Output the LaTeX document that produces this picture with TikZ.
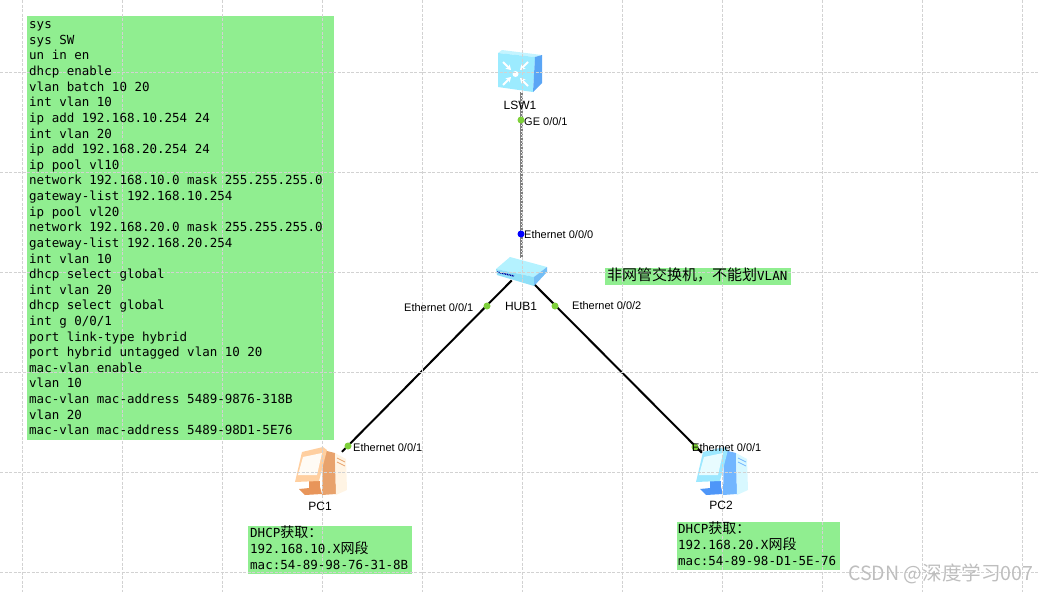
\documentclass[tikz,border=0pt]{standalone}
\usepackage{fontspec}
\usetikzlibrary{arrows.meta}
\setmainfont{Liberation Sans}
\setmonofont{DejaVu Sans Mono}
\newfontfamily\cjk{Noto Sans CJK SC}

\definecolor{notegreen}{HTML}{90EE90}
\definecolor{portgreen}{HTML}{7ED03A}
\definecolor{gridgray}{HTML}{D2D2D2}
\definecolor{markgray}{HTML}{BEBEBE}
\definecolor{swtop}{HTML}{C4F4FF}
\definecolor{swfront}{HTML}{9CEBFF}
\definecolor{swside}{HTML}{5AA5F5}
\definecolor{hubtop}{HTML}{B4F2FF}
\definecolor{hubfront}{HTML}{8FE0F8}
\definecolor{hubside}{HTML}{74BEF5}
\definecolor{orframe}{HTML}{FFCFA0}
\definecolor{ordark}{HTML}{E8A26C}
\definecolor{orpale}{HTML}{FFF4E4}
\definecolor{orscreen}{HTML}{FFFBF5}
\definecolor{orbase}{HTML}{E8955A}
\definecolor{blframe}{HTML}{9CE8FF}
\definecolor{bldark}{HTML}{72B6FF}
\definecolor{blpale}{HTML}{D8F8FF}
\definecolor{blscreen}{HTML}{E8FCFF}
\definecolor{blbase}{HTML}{4E96F8}

\tikzset{
  gridline/.style={gridgray,line width=0.8pt,dash pattern=on 3pt off 1.5pt},
  notebox/.style={fill=notegreen,inner sep=0pt,anchor=north west},
  monotext/.style={inner sep=0pt,anchor=north west,align=left,font=\ttfamily\fontsize{12.5}{15.62}\selectfont},
  portlabel/.style={inner sep=0pt,font=\fontsize{11}{13}\selectfont},
  devlabel/.style={inner sep=0pt,font=\fontsize{12}{14}\selectfont},
  device/.style={circle,inner sep=0pt},
  port/.style={circle,inner sep=0pt,minimum size=7pt,fill=portgreen},
  link/.style={black,line width=2pt},
  pics/pc/.style n args={5}{code={
    % stand
    \fill[#5] (-11,9) -- (0,9) -- (0,18) -- (-11,18) -- cycle;
    \fill[#5] (-21,17) -- (0,15) -- (2,22) -- (-15,23) -- cycle;
    % tower
    \fill[#2] (3,-22) -- (15,-19) -- (16,22) -- (2,23) -- cycle;
    \fill[#3] (15,-19) -- (26,-13) -- (27,18) -- (16,23) -- cycle;
    \draw[#2,line width=0.7pt] (17,-14)--(25,-10) (17,-10)--(25,-6);
    % monitor
    \fill[#1] (-18,-20) -- (3,-25) -- (7,-22) -- (-1,9) -- (-25,10) -- cycle;
    \fill[#4] (-17,-15) -- (2,-19) -- (-3,3) -- (-22,3) -- cycle;
  }},
}

\begin{document}
\begin{tikzpicture}[x=1pt,y=-1pt]
\useasboundingbox (0,0) rectangle (1038,592);

% Note boxes
\node[notebox,minimum width=307pt,minimum height=424pt] (cfgbox) at (27,16) {};
\node[notebox,minimum width=186pt,minimum height=17pt] (notebox) at (605,268) {};
\node[notebox,minimum width=164pt,minimum height=48pt] (dhcpbox1) at (248,526) {};
\node[notebox,minimum width=163pt,minimum height=48pt] (dhcpbox2) at (677,522) {};

% Devices
\node[device,minimum size=40pt] (lsw) at (521,72) {};
\node[device,minimum size=26pt] (hub) at (521,271) {};
\node[device,minimum size=62pt] (pc1) at (320,474) {};
\node[device,minimum size=54pt] (pc2) at (721,472) {};

\pic at (320,472) {pc={orframe}{ordark}{orpale}{orscreen}{orbase}};
\pic at (721,472) {pc={blframe}{bldark}{blpale}{blscreen}{blbase}};

% Links
\draw[gray,line width=3pt] (lsw)--(hub);
\draw[white,line width=0.8pt,dash pattern=on 1pt off 2pt] (lsw)--(hub);
\draw[link] (hub)--(pc1);
\draw[link] (hub)--(pc2);

% Switch
\fill[swtop] (502,50) -- (542,55) -- (535,57) -- (498,53) -- cycle;
\fill[swfront] (498,53) -- (535,57) -- (533,92) -- (498,87) -- cycle;
\fill[swside] (535,57) -- (542,55) -- (542,83) -- (533,92) -- cycle;
\foreach \xa/\ya/\xb/\yb in {503/62/511/70,528/62/520/70,503/85/511/77,528/86/520/78}
  \draw[white,line width=2pt,-{Stealth[length=5pt,width=6pt]}] (\xa,\ya)--(\xb,\yb);
\fill[white] (515.5,74) circle (3pt);

% Hub
\fill[hubtop] (510,257) -- (547,267) -- (534,277) -- (496,269) -- cycle;
\fill[hubfront] (496,269) -- (534,277) -- (534,286) -- (497,275) -- cycle;
\fill[hubside] (534,277) -- (547,267) -- (547,272) -- (534,286) -- cycle;
\draw[blue!60!black,line width=1.5pt,dash pattern=on 1pt off 0.7pt] (497,272)--(514,276);

% Grid
\foreach \x in {22,122,...,1022}
  \draw[gridline] (\x,0)--(\x,592);
\foreach \y in {72,172,...,572}
  \draw[gridline] (0,\y)--(1038,\y);

% Ports
\node[port] (p1) at (521,120) {};
\node[port,fill=blue] (p2) at (521,234) {};
\node[port] (p3) at (487,306) {};
\node[port] (p4) at (555,306) {};
\node[port] (p5) at (348,446) {};
\node[port] (p6) at (695,447) {};

\node[portlabel,anchor=west] (l1) at (524,121.5) {GE 0/0/1};
\node[portlabel,anchor=west] (l2) at (524,234.5) {Ethernet 0/0/0};
\node[portlabel,anchor=west] (l3) at (404,307.5) {Ethernet 0/0/1};
\node[portlabel,anchor=west] (l4) at (572,305.5) {Ethernet 0/0/2};
\node[portlabel,anchor=west] (l5) at (353,447.5) {Ethernet 0/0/1};
\node[portlabel,anchor=west] (l6) at (692,448) {Ethernet 0/0/1};

\node[devlabel] (n1) at (520,105.5) {LSW1};
\node[devlabel] (n2) at (521,306) {HUB1};
\node[devlabel] (n3) at (320,506) {PC1};
\node[devlabel] (n4) at (721,505) {PC2};

% Texts
\node[monotext] (cfgtext) at (29,21.5) {sys\\sys SW\\un in en\\dhcp enable\\vlan batch 10 20\\int vlan 10\\ip add 192.168.10.254 24\\int vlan 20\\ip add 192.168.20.254 24\\ip pool vl10\\network 192.168.10.0 mask 255.255.255.0\\gateway-list 192.168.10.254\\ip pool vl20\\network 192.168.20.0 mask 255.255.255.0\\gateway-list 192.168.20.254\\int vlan 10\\dhcp select global\\int vlan 20\\dhcp select global\\int g 0/0/1\\port link-type hybrid\\port hybrid untagged vlan 10 20\\mac-vlan enable\\vlan 10\\mac-vlan mac-address 5489-9876-318B\\vlan 20\\mac-vlan mac-address 5489-98D1-5E76};
\node[inner sep=0pt,anchor=west] (notetext) at (607,275) {\cjk\fontsize{15}{17}\selectfont 非网管交换机，不能划\ttfamily\fontsize{12.5}{13}\selectfont VLAN};
\node[monotext] (dhcptext1) at (250,526) {DHCP{\cjk\fontsize{14}{15}\selectfont 获取：}\\192.168.10.X{\cjk\fontsize{14}{15}\selectfont 网段}\\mac:54-89-98-76-31-8B};
\node[monotext] (dhcptext2) at (678,522) {DHCP{\cjk\fontsize{14}{15}\selectfont 获取：}\\192.168.20.X{\cjk\fontsize{14}{15}\selectfont 网段}\\mac:54-89-98-D1-5E-76};

% Watermark
\node[inner sep=0pt,anchor=west,text=markgray] (mark) at (848,574) {\cjk\fontsize{19.6}{21}\selectfont CSDN @深度学习007};

\end{tikzpicture}
\end{document}
